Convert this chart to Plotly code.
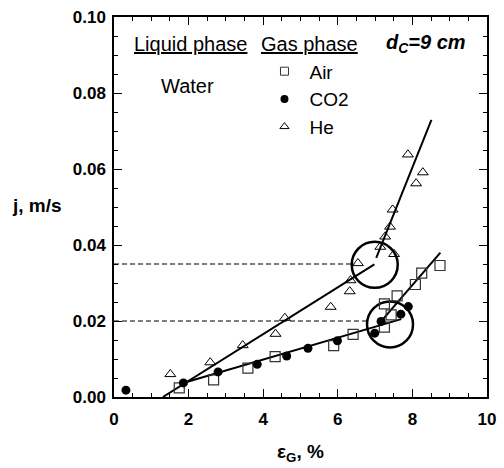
import plotly.graph_objects as go

# Gas holdup (%) vs. superficial liquid velocity j (m/s), water, d_C = 9 cm
air_eps = [1.75, 2.67, 3.59, 4.32, 5.89, 6.41, 7.25, 7.25, 7.43, 7.59, 8.08, 8.25, 8.74]
air_j = [0.0024, 0.0045, 0.0076, 0.0106, 0.0135, 0.0165, 0.0184, 0.0245, 0.0216, 0.0266, 0.0296, 0.0326, 0.0346]

co2_eps = [0.32, 1.86, 2.79, 3.84, 4.63, 5.20, 5.99, 6.99, 7.16, 7.69, 7.89]
co2_j = [0.0018, 0.0037, 0.0066, 0.0086, 0.0108, 0.0128, 0.0148, 0.0168, 0.0199, 0.0218, 0.0238]

he_eps = [1.51, 2.58, 3.45, 4.33, 4.58, 5.81, 6.32, 6.34, 6.54, 7.14, 7.27, 7.40, 7.47, 7.51, 7.88, 8.10, 8.28]
he_j = [0.0060, 0.0091, 0.0136, 0.0166, 0.0208, 0.0237, 0.0278, 0.0307, 0.0352, 0.0395, 0.0422, 0.0448, 0.0493, 0.0376, 0.0638, 0.0562, 0.0591]

# Linear fits (endpoints) for the two regimes
fit_he_low_x, fit_he_low_y = [1.31, 6.98], [0.0, 0.0349]
fit_he_high_x, fit_he_high_y = [7.03, 8.51], [0.0366, 0.0729]
fit_air_low_x, fit_air_low_y = [1.90, 7.70], [0.0038, 0.0205]
fit_air_high_x, fit_air_high_y = [7.16, 8.75], [0.0199, 0.0380]

# Transition velocities (dashed guides) and transition points (circled)
trans_j = [0.035, 0.020]
trans_guide_end = [6.45, 6.80]
trans_eps = [6.99, 7.40]
trans_j_center = [0.0348, 0.0191]

FONT = "Arial, Liberation Sans, sans-serif"

fig = go.Figure()

# dashed guides
for j, xe in zip(trans_j, trans_guide_end):
    fig.add_trace(go.Scatter(x=[0, xe], y=[j, j], mode="lines",
                             line=dict(color="black", width=1.2, dash="5px,3px"),
                             showlegend=False, hoverinfo="skip"))

# fit lines
for fx, fy in [(fit_he_low_x, fit_he_low_y), (fit_he_high_x, fit_he_high_y),
               (fit_air_low_x, fit_air_low_y), (fit_air_high_x, fit_air_high_y)]:
    fig.add_trace(go.Scatter(x=fx, y=fy, mode="lines",
                             line=dict(color="black", width=2),
                             showlegend=False, hoverinfo="skip"))

# circled transition points
fig.add_trace(go.Scatter(x=trans_eps, y=trans_j_center, mode="markers",
                         marker=dict(symbol="circle-open", size=46, color="black",
                                     line=dict(color="black", width=2.5)),
                         showlegend=False, hoverinfo="skip"))

# data
fig.add_trace(go.Scatter(x=air_eps, y=air_j, mode="markers", showlegend=False,
                         marker=dict(symbol="square-open", size=10, color="#333",
                                     line=dict(color="#333", width=1.2))))
fig.add_trace(go.Scatter(x=co2_eps, y=co2_j, mode="markers", showlegend=False,
                         marker=dict(symbol="circle", size=9, color="black")))
fig.add_trace(go.Scatter(x=he_eps, y=he_j, mode="markers", showlegend=False,
                         marker=dict(symbol="triangle-up-open", size=9.5, color="black",
                                     line=dict(color="black", width=1))))

# legend entries (smaller symbols)
fig.add_trace(go.Scatter(x=[None], y=[None], mode="markers", name="Air",
                         marker=dict(symbol="square-open", size=8, color="#333",
                                     line=dict(color="#333", width=1))))
fig.add_trace(go.Scatter(x=[None], y=[None], mode="markers", name="CO2",
                         marker=dict(symbol="circle", size=8, color="black")))
fig.add_trace(go.Scatter(x=[None], y=[None], mode="markers", name="He",
                         marker=dict(symbol="triangle-up-open", size=8, color="black",
                                     line=dict(color="black", width=1))))

axis_common = dict(
    showline=True, linecolor="black", linewidth=1.5, mirror="ticks",
    ticks="inside", ticklen=8, tickwidth=1.2, tickcolor="black",
    showgrid=False, zeroline=False,
    tickfont=dict(family=FONT, size=17, color="black", weight="bold"),
)

fig.update_xaxes(range=[0, 10], dtick=2, tick0=0,
                 minor=dict(dtick=0.5, ticks="inside", ticklen=4, tickcolor="black", tickwidth=1),
                 ticklabelstandoff=6, **axis_common)
fig.update_yaxes(range=[0, 0.10], dtick=0.02, tick0=0, tickformat=".2f",
                 minor=dict(dtick=0.005, ticks="inside", ticklen=4, tickcolor="black", tickwidth=1),
                 ticklabelstandoff=3, **axis_common)

ann_font = dict(family=FONT, size=20, color="black")
fig.add_annotation(xref="paper", yref="paper", x=-0.207, y=0.504, xanchor="center", yanchor="middle",
                   showarrow=False, text="<b>j, m/s</b>", font=dict(family=FONT, size=19, color="black"))
fig.add_annotation(xref="paper", yref="paper", x=0.5, y=-0.148, xanchor="center", yanchor="middle",
                   showarrow=False, text="<b>ε<sub>G</sub>, %</b>", font=dict(family=FONT, size=19, color="black"))
fig.add_annotation(xref="paper", yref="paper", x=0.047, y=0.929, xanchor="left", yanchor="middle",
                   showarrow=False, text="<u>Liquid phase</u>", font=ann_font)
fig.add_annotation(xref="paper", yref="paper", x=0.390, y=0.929, xanchor="left", yanchor="middle",
                   showarrow=False, text="<u>Gas phase</u>", font=ann_font)
fig.add_annotation(xref="paper", yref="paper", x=0.948, y=0.929, xanchor="right", yanchor="middle",
                   showarrow=False, text="<b><i>d<sub>C</sub>=9 cm</i></b>", font=ann_font)
fig.add_annotation(xref="paper", yref="paper", x=0.120, y=0.819, xanchor="left", yanchor="middle",
                   showarrow=False, text="Water", font=ann_font)

fig.update_layout(
    width=504, height=468,
    margin=dict(l=114, r=8, t=16, b=71),
    plot_bgcolor="white", paper_bgcolor="white",
    font=dict(family=FONT, color="black"),
    legend=dict(x=0.39, y=0.907, xanchor="left", yanchor="top",
                bgcolor="rgba(0,0,0,0)", borderwidth=0,
                font=dict(family=FONT, size=19, color="black"),
                itemwidth=40),
)

fig.write_html("out.html")
